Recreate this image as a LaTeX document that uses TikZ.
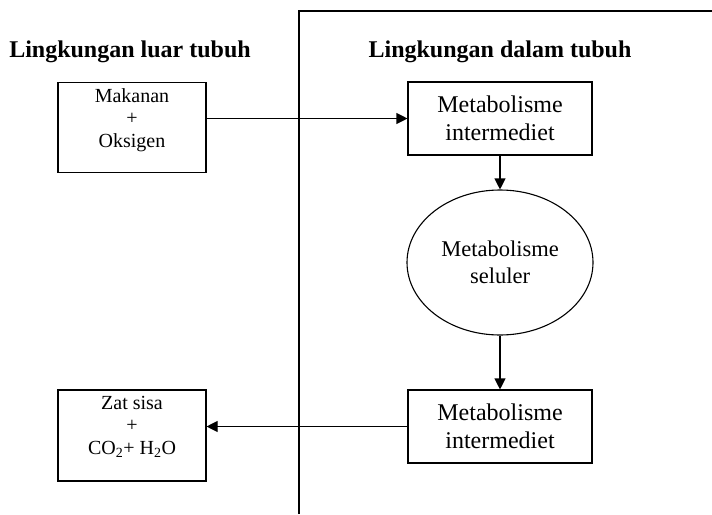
\documentclass[tikz,border=0pt]{standalone}
\usepackage{fontspec}
\setmainfont{Liberation Serif}
\usetikzlibrary{arrows.meta,shapes.geometric}
\begin{document}
\begin{tikzpicture}[x=1pt,y=-1pt,
 box/.style={draw, line width=1.1pt, inner sep=0pt},
 arr/.style={-{Triangle[length=11pt,width=11pt]}, line width=1.1pt},
 title/.style={font=\fontsize{24}{28}\selectfont\bfseries, anchor=base},
 big/.style={font=\fontsize{24}{28.5}\selectfont, align=center},
 mid/.style={font=\fontsize{22.5}{27}\selectfont, align=center},
 small/.style={font=\fontsize{20}{22.5}\selectfont, align=center, inner sep=0pt, anchor=north, yshift=-6.3pt}]
\useasboundingbox (0,0) rectangle (712,514);
\coordinate (lbot) at (299,514);
\coordinate (ltop) at (299,11);
\coordinate (rtop) at (712,11);
\draw[line width=1.1pt] (lbot) -- (ltop) -- (rtop);
\node[title] (tl) at (130,57) {Lingkungan luar tubuh};
\node[title] (tr) at (500,57) {Lingkungan dalam tubuh};
\node[box, minimum width=148, minimum height=90.5,
  label={[small]north:Makanan\\+\\Oksigen}] (mak) at (132,127.5) {};
\node[box, minimum width=184, minimum height=73, big] (met1) at (500,118.5) {Metabolisme\\intermediet};
\node[ellipse, draw, line width=1.1pt, minimum width=186, minimum height=145, inner sep=0pt, mid] (cel) at (500,262.5) {Metabolisme\\seluler};
\node[box, minimum width=184, minimum height=73, big] (met2) at (500,426.5) {Metabolisme\\intermediet};
\node[box, minimum width=148, minimum height=91,
  label={[small]north:Zat sisa\\+\\CO\textsubscript{2}+ H\textsubscript{2}O}] (zat) at (132,435.5) {};
\draw[arr] (met1.west -| mak.east) -- (met1.west);
\draw[arr] (met1.south) -- (cel.north);
\draw[arr] (cel.south) -- (met2.north);
\draw[arr] (met2.west) -- (met2.west -| zat.east);
\end{tikzpicture}
\end{document}
